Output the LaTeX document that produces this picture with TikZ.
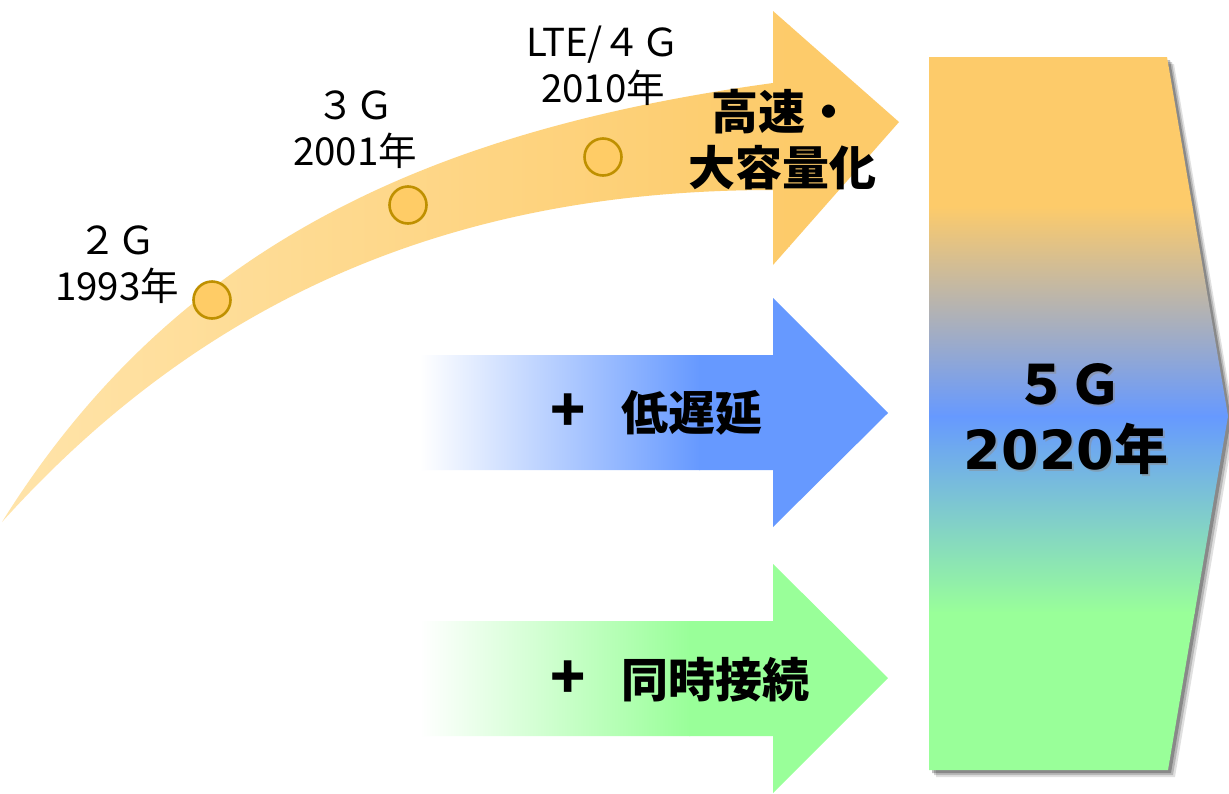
\documentclass[tikz,border=0pt]{standalone}
\usepackage{fontspec}
\usetikzlibrary{calc}
\setmainfont{Noto Sans CJK JP}
\newfontfamily\dejavu{DejaVu Sans}
\definecolor{orA}{RGB}{255,228,170}
\definecolor{orB}{RGB}{253,203,106}
\definecolor{blueA}{RGB}{102,153,255}
\definecolor{greenA}{RGB}{153,255,153}
\definecolor{circF}{RGB}{255,204,102}
\definecolor{circD}{RGB}{191,144,0}
\begin{document}
\begin{tikzpicture}[x=1pt,y=-1pt,
  lbl/.style={font=\fontsize{38.5}{46}\selectfont, align=center, inner sep=0pt},
  bigtxt/.style={font=\bfseries\fontsize{47}{56}\selectfont, align=center, inner sep=0pt},
  plustxt/.style={font=\bfseries\fontsize{58}{58}\selectfont, inner sep=0pt},
  fivetxt/.style={font=\bfseries\fontsize{54}{54}\selectfont, inner sep=0pt},
  circ/.style={circle, draw=circD, line width=2.6pt, fill=circF, minimum size=37pt, inner sep=0pt}]
\useasboundingbox (0,0) rectangle (1229,793);
\fill[white] (0,0) rectangle (1229,793);
% curved arrow
\begin{scope}
  \clip (2,522) .. controls (175,245) and (430,130) .. (773,83) -- (773,11) -- (899,122) -- (773,265) -- (773,190) .. controls (480,190) and (220,280) .. (2,522) -- cycle;
  \shade[left color=orA, right color=orB] (0,0) rectangle (790,540);
  \fill[orB] (789,0) rectangle (910,540);
\end{scope}
% blue arrow
\begin{scope}
  \clip (420,355) -- (773,355) -- (773,298) -- (888,413) -- (773,527) -- (773,470) -- (420,470) -- cycle;
  \shade[left color=white, right color=blueA] (420,290) rectangle (700,530);
  \fill[blueA] (699,290) rectangle (900,530);
\end{scope}
% green arrow
\begin{scope}
  \clip (420,621) -- (773,621) -- (773,564) -- (888,678) -- (773,793) -- (773,736) -- (420,736) -- cycle;
  \shade[left color=white, right color=greenA] (420,560) rectangle (690,800);
  \fill[greenA] (689,560) rectangle (900,800);
\end{scope}
% 5G box shadow
\foreach \o/\op in {7/0.12,5/0.18,3/0.25}{
  \fill[black, opacity=\op] ($(929,57)+(\o,\o)$) -- ($(1167,57)+(\o,\o)$) -- ($(1228,416)+(\o,\o)$) -- ($(1168,770)+(\o,\o)$) -- ($(929,770)+(\o,\o)$) -- cycle;
}
% 5G box
\begin{scope}
  \clip (929,57) -- (1167,57) -- (1228,416) -- (1168,770) -- (929,770) -- cycle;
  \fill[orB] (920,50) rectangle (1235,207);
  \shade[top color=orB, bottom color=blueA] (920,206) rectangle (1235,417);
  \shade[top color=blueA, bottom color=greenA] (920,416) rectangle (1235,613);
  \fill[greenA] (920,612) rectangle (1235,780);
\end{scope}
% circles
\node[circ] (c2g) at (212,300) {};
\node[circ] (c3g) at (408,205) {};
\node[circ] (c4g) at (603,157) {};
% labels
\node[lbl] (l2g) at (117,265) {２Ｇ\\1993年};
\node[lbl] (l3g) at (355,130) {３Ｇ\\2001年};
\node[lbl] (l4g) at (603,66) {LTE/４Ｇ\\2010年};
\node[bigtxt] (speed) at (782,140) {高速・\\大容量化};
\node[plustxt] (p1) at (568,413) {+};
\node[bigtxt] (lat) at (692,413) {低遅延};
\node[plustxt] (p2) at (568,680) {+};
\node[bigtxt] (conn) at (715,680) {同時接続};
% 5G text with shadow
\node[fivetxt, text=black!45, opacity=0.5] at (1070,386) {５Ｇ};
\node[fivetxt, text=black!45, opacity=0.5] at (1068,451) {{\dejavu\bfseries 2020}年};
\node[fivetxt] (g5) at (1068,384) {５Ｇ};
\node[fivetxt] (y2020) at (1066,449) {{\dejavu\bfseries 2020}年};
\end{tikzpicture}
\end{document}
